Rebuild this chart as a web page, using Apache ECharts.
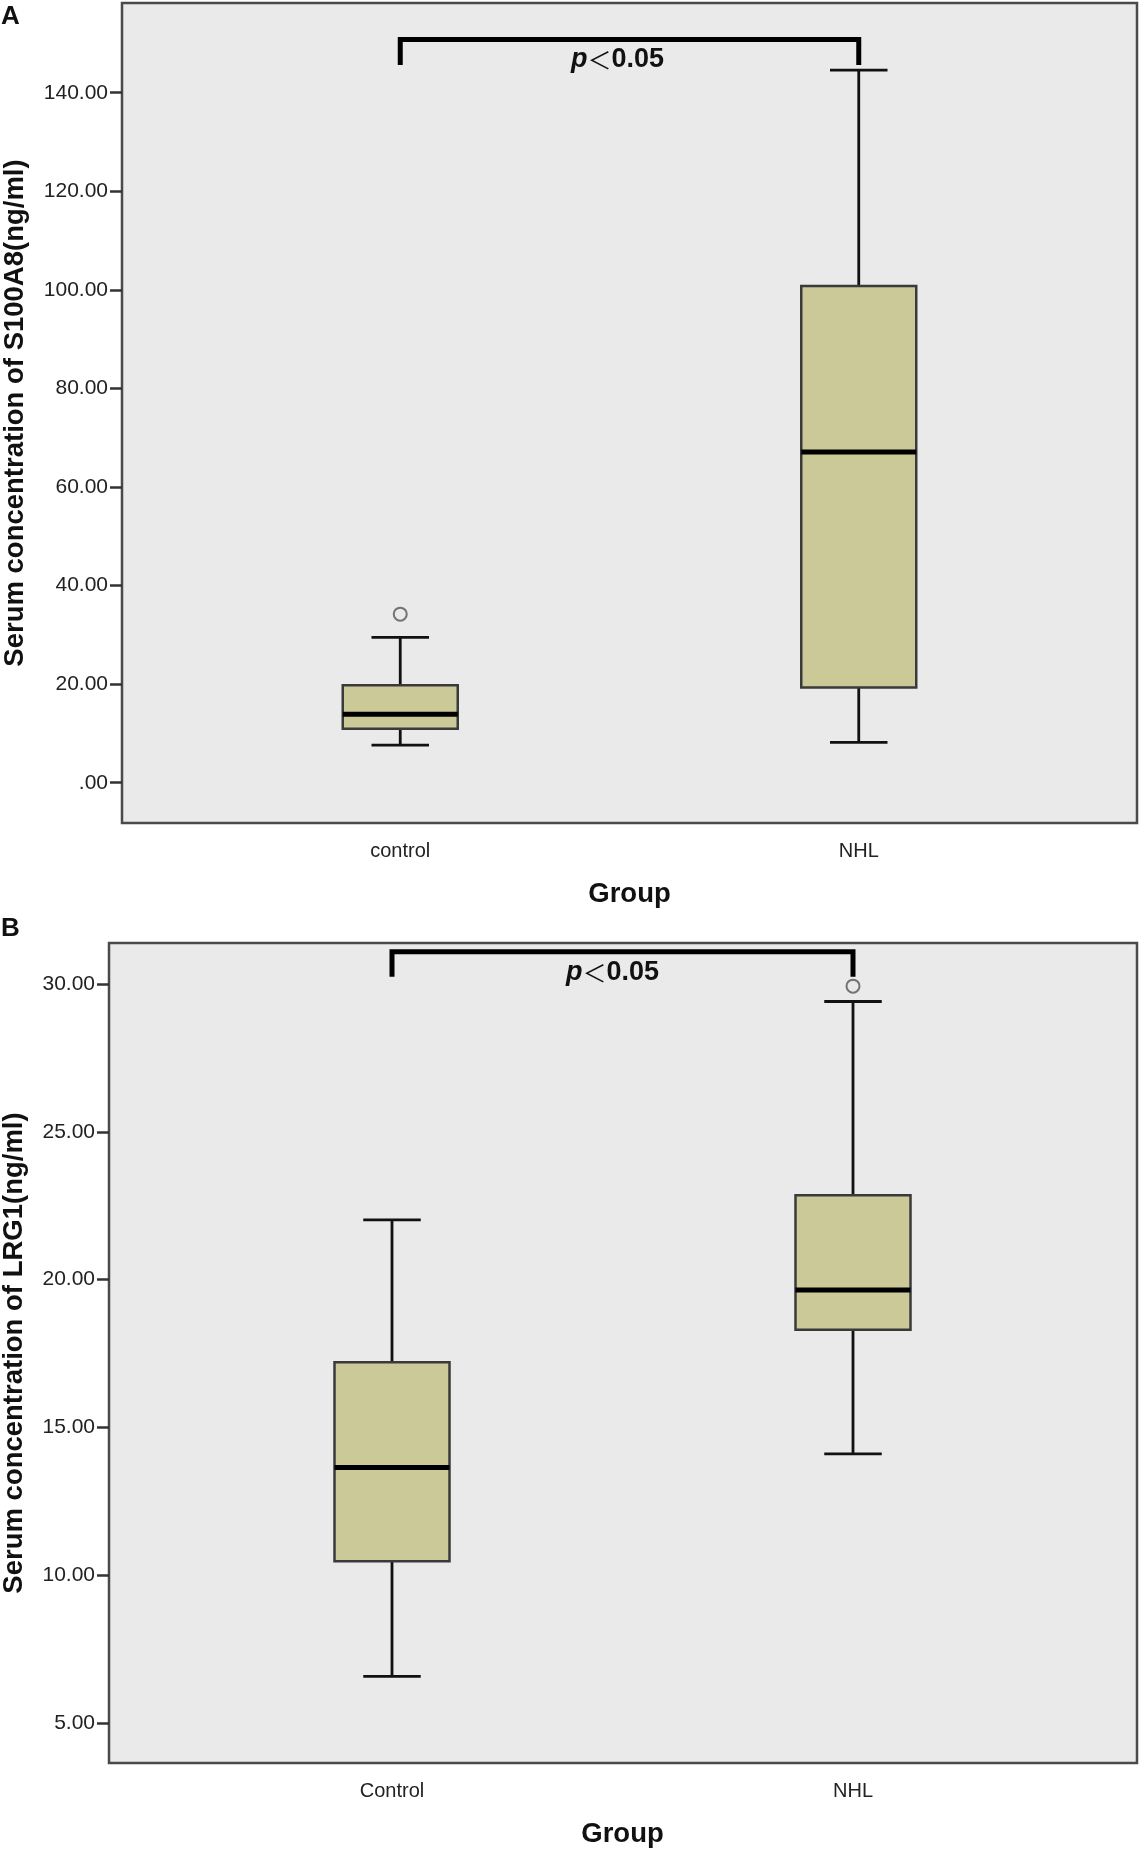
<!DOCTYPE html>
<html>
<head>
<meta charset="utf-8">
<script src="https://cdn.jsdelivr.net/npm/echarts@6/dist/echarts.min.js"></script>
<style>
  html, body { margin: 0; padding: 0; background: #fff; }
  .main { width: 1141px; height: 1851px; }
</style>
</head>
<body>
<div class="main"></div>
<script>
// panel A: S100A8  [min, Q1, median, Q3, max]
var groupsA = ['control', 'NHL'];
var boxA = [
  [7.65, 10.95, 13.87, 19.76, 29.5],
  [8.19, 19.3, 67.1, 100.8, 144.6]
];
var outliersA = [['control', 34.2]];
var bracketA = [145.6, 150.8];
var ticksA = [0, 20, 40, 60, 80, 100, 120, 140];

// panel B: LRG1
var groupsB = ['Control', 'NHL'];
var boxB = [
  [6.57, 10.47, 13.64, 17.2, 22.02],
  [14.1, 18.3, 19.65, 22.85, 29.41]
];
var outliersB = [['NHL', 29.93]];
var bracketB = [30.25, 31.09];
var ticksB = [5, 10, 15, 20, 25, 30];

var FONT = '"Liberation Sans", Arial, sans-serif';
var BOXW = 115;

function fmt(v) {
  return v === 0 ? '.00' : v.toFixed(2);
}

// frame grid draws the grey panel and its border
function frameGrid(l, t, w, h) {
  return { left: l, top: t, width: w, height: h, show: true, outerBoundsMode: 'none',
    backgroundColor: '#eaeaea', borderColor: '#4a4a4a', borderWidth: 2.5, z: 0 };
}

function innerGrid(l, t, w, h) {
  return { left: l, top: t, width: w, height: h, outerBoundsMode: 'none' };
}

function hiddenAxis(idx) {
  return { type: 'value', gridIndex: idx, show: false };
}

function catAxis(idx, cats) {
  return {
    type: 'category', gridIndex: idx, data: cats,
    axisLine: { show: false },
    axisTick: { alignWithLabel: true, length: 13, lineStyle: { color: '#333', width: 2 } },
    axisLabel: { margin: 18, fontFamily: FONT, fontSize: 20, color: '#222' },
    name: 'Group', nameLocation: 'middle', nameGap: 57,
    nameTextStyle: { fontFamily: FONT, fontSize: 27.5, fontWeight: 'bold', color: '#111' },
    z: 1
  };
}

function valAxis(idx, min, max, ticks, offset, name, gap) {
  return {
    type: 'value', gridIndex: idx, min: min, max: max, offset: offset,
    splitLine: { show: false },
    axisLine: { show: false },
    axisTick: { show: true, customValues: ticks, length: 12, lineStyle: { color: '#333', width: 2.5 } },
    axisLabel: { customValues: ticks, margin: 14, fontFamily: FONT, fontSize: 21, color: '#222', formatter: fmt },
    name: name, nameLocation: 'middle', nameGap: gap,
    nameTextStyle: { fontFamily: FONT, fontSize: 27.5, fontWeight: 'bold', color: '#111' },
    z: 1
  };
}

// SPSS style box: caps half the box width, thick median
function renderBox(params, api) {
  var i = api.value(0);
  var lo = api.coord([i, api.value(1)]);
  var q1 = api.coord([i, api.value(2)]);
  var md = api.coord([i, api.value(3)]);
  var q3 = api.coord([i, api.value(4)]);
  var hi = api.coord([i, api.value(5)]);
  var x = lo[0], hw = BOXW / 2, cw = BOXW / 4;
  var wStyle = { stroke: '#111', lineWidth: 2.8 };
  return {
    type: 'group',
    children: [
      { type: 'line', shape: { x1: x, y1: q1[1], x2: x, y2: lo[1] }, style: wStyle },
      { type: 'line', shape: { x1: x, y1: q3[1], x2: x, y2: hi[1] }, style: wStyle },
      { type: 'line', shape: { x1: x - cw, y1: lo[1], x2: x + cw, y2: lo[1] }, style: wStyle },
      { type: 'line', shape: { x1: x - cw, y1: hi[1], x2: x + cw, y2: hi[1] }, style: wStyle },
      { type: 'rect', shape: { x: x - hw, y: q3[1], width: BOXW, height: q1[1] - q3[1] },
        style: { fill: '#cbc997', stroke: '#3a3a3a', lineWidth: 2.5 } },
      { type: 'line', shape: { x1: x - hw, y1: md[1], x2: x + hw, y2: md[1] },
        style: { stroke: '#000', lineWidth: 5 } }
    ]
  };
}

function panelSeries(axisIdx, cats, box, outliers, bracket) {
  return [
    {
      type: 'custom', xAxisIndex: axisIdx, yAxisIndex: axisIdx, silent: true,
      data: box.map(function (b, i) { return [i].concat(b); }),
      encode: { x: 0, y: [1, 2, 3, 4, 5] },
      renderItem: renderBox
    },
    {
      type: 'scatter', xAxisIndex: axisIdx, yAxisIndex: axisIdx, silent: true, z: 3,
      data: outliers, symbol: 'circle', symbolSize: 13,
      itemStyle: { color: '#e8e8e8', borderColor: '#555', borderWidth: 2 }
    },
    {
      type: 'line', xAxisIndex: axisIdx, yAxisIndex: axisIdx, silent: true, z: 3,
      data: [[cats[0], bracket[0]], [cats[0], bracket[1]], [cats[1], bracket[1]], [cats[1], bracket[0]]],
      symbol: 'none',
      lineStyle: { color: '#000', width: 5, cap: 'butt', join: 'miter' }
    }
  ];
}

function pText(x, y) {
  return {
    type: 'text', left: x, top: y,
    style: {
      text: '{i|p}{n|＜}{b|0.05}',
      rich: {
        i: { fontFamily: FONT, fontSize: 27, fontWeight: 'bold', fontStyle: 'italic', fill: '#111' },
        n: { fontFamily: '"Noto Sans CJK SC"', fontSize: 24, fill: '#111' },
        b: { fontFamily: FONT, fontSize: 27, fontWeight: 'bold', fill: '#111' }
      }
    }
  };
}

var myChart = echarts.init(document.querySelector('.main'));

var option = {
  animation: false,
  grid: [
    frameGrid(122, 3, 1015, 820),
    innerGrid(171, 3, 917, 820),
    frameGrid(109, 943, 1028, 820),
    innerGrid(161.5, 943, 922, 820)
  ],
  xAxis: [hiddenAxis(0), catAxis(1, groupsA), hiddenAxis(2), catAxis(3, groupsB)],
  yAxis: [
    hiddenAxis(0),
    valAxis(1, -8.17, 158.2, ticksA, 49, 'Serum concentration of S100A8(ng/ml)', 93),
    hiddenAxis(2),
    valAxis(3, 3.64, 31.39, ticksB, 52.5, 'Serum concentration of LRG1(ng/ml)', 81)
  ],
  series: [].concat(
    panelSeries(1, groupsA, boxA, outliersA, bracketA),
    panelSeries(3, groupsB, boxB, outliersB, bracketB)
  ),
  graphic: [
    { type: 'text', left: 1, top: 4, style: { text: 'A', fontFamily: FONT, fontSize: 26, fontWeight: 'bold', fill: '#111' } },
    { type: 'text', left: 1, top: 916, style: { text: 'B', fontFamily: FONT, fontSize: 26, fontWeight: 'bold', fill: '#111' } },
    pText(571, 46),
    pText(566, 959)
  ]
};

myChart.setOption(option);
</script>
</body>
</html>
